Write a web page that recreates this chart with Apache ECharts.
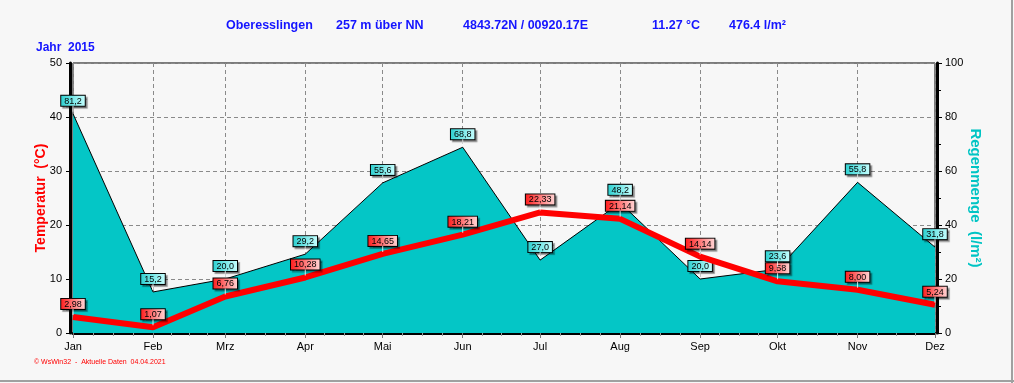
<!DOCTYPE html>
<html>
<head>
<meta charset="utf-8">
<script src="https://cdn.jsdelivr.net/npm/echarts@6/dist/echarts.min.js"></script>
<style>
html,body{margin:0;padding:0;background:#f7f7f7;}
#c{width:1014px;height:383px;}
</style>
</head>
<body>
<div id="c"></div>
<script>
const months = ['Jan','Feb','Mrz','Apr','Mai','Jun','Jul','Aug','Sep','Okt','Nov','Dez'];
const dates = ['2015-01-01','2015-02-01','2015-03-01','2015-04-01','2015-05-01','2015-06-01','2015-07-01','2015-08-01','2015-09-01','2015-10-01','2015-11-01','2015-12-01'];
const temperature = [2.98, 1.07, 6.76, 10.28, 14.65, 18.21, 22.33, 21.14, 14.14, 9.58, 8.00, 5.24];
const rain = [81.2, 15.2, 20.0, 29.2, 55.6, 68.8, 27.0, 48.2, 20.0, 23.6, 55.8, 31.8];
const tempTicks = [0, 10, 20, 30, 40, 50];
const rainTicks = [0, 20, 40, 60, 80, 100];

const FONT = '"Liberation Sans", Arial, sans-serif';
const BLUE = '#1414ff';
const DAY = 86400000;

function grad(c1, c2) {
  return {type:'linear', x:0, y:0, x2:1, y2:0, colorStops:[{offset:0,color:c1},{offset:1,color:c2}]};
}
function lbl(bg1, bg2, dec) {
  return {
    show: true, position: 'top', distance: 7,
    fontFamily: FONT, fontSize: 9, color: '#000',
    padding: [1, 3, 0, 3],
    backgroundColor: grad(bg1, bg2),
    borderColor: '#000', borderWidth: 1,
    shadowColor: 'rgba(0,0,0,0.35)', shadowOffsetX: 2, shadowOffsetY: 2, shadowBlur: 1,
    formatter: p => p.value[1].toFixed(dec).replace('.', ',')
  };
}
function stem(yIdx, values) {
  return {
    type: 'scatter', yAxisIndex: yIdx, silent: true, z: 5,
    data: values.map((v, i) => [dates[i], v]),
    symbol: 'rect', symbolSize: [1, 6], symbolOffset: [0, -5],
    itemStyle: {color: '#ffffff'}
  };
}
const noMark = {color: 'rgba(0,0,0,0)', borderWidth: 0};

const chart = echarts.init(document.getElementById('c'), null, {renderer:'canvas'});
chart.setOption({
  backgroundColor: '#f7f7f7',
  animation: false,
  textStyle: {fontFamily: FONT},
  grid: {left: 73, right: 79, top: 63, bottom: 50, show: true, borderColor: '#000', borderWidth: 1, backgroundColor: 'transparent'},
  graphic: [
    {type:'text', left:226, top:19, style:{text:'Oberesslingen', font:'bold 12.5px '+FONT, fill:BLUE}},
    {type:'text', left:336, top:19, style:{text:'257 m über NN', font:'bold 12.5px '+FONT, fill:BLUE}},
    {type:'text', left:463, top:19, style:{text:'4843.72N / 00920.17E', font:'bold 12.5px '+FONT, fill:BLUE}},
    {type:'text', left:652, top:19, style:{text:'11.27 °C', font:'bold 12.5px '+FONT, fill:BLUE}},
    {type:'text', left:729, top:19, style:{text:'476.4 l/m²', font:'bold 12.5px '+FONT, fill:BLUE}},
    {type:'text', left:36, top:42, style:{text:'Jahr  2015', font:'bold 12px '+FONT, fill:BLUE}},
    {type:'text', left:34, top:359, style:{text:'© WsWin32  -  Aktuelle Daten  04.04.2021', font:'7px '+FONT, fill:'#ff0000'}},
    {type:'line', shape:{x1:1012, y1:0, x2:1012, y2:383}, style:{stroke:'#a0a0a0', lineWidth:2}},
    {type:'line', shape:{x1:0, y1:381, x2:1014, y2:381}, style:{stroke:'#a0a0a0', lineWidth:2}}
  ],
  xAxis: {
    type: 'time', min: dates[0], max: dates[dates.length - 1],
    minInterval: 28 * DAY, maxInterval: 31 * DAY, splitNumber: 11,
    axisLine: {show: true, lineStyle: {color: '#000', width: 3}},
    axisTick: {show: true, length: 5, lineStyle: {color: '#777'}},
    minorTick: {show: true, splitNumber: 4, length: 3, lineStyle: {color: '#999'}},
    axisLabel: {color: '#000', fontSize: 11, margin: 8, fontWeight: 'normal',
      showMinLabel: true, showMaxLabel: true, hideOverlap: false,
      formatter: v => months[new Date(v).getMonth()]},
    splitLine: {show: true, lineStyle: {color: '#8a8a8a', type: [4, 3], width: 1}}
  },
  yAxis: [
    {
      type: 'value', min: tempTicks[0], max: tempTicks[tempTicks.length-1], interval: 10, position: 'left', offset: 3,
      name: 'Temperatur  (°C)', nameLocation: 'middle', nameGap: 22, nameRotate: 90, nameMoveOverlap: false,
      nameTextStyle: {color: '#ff0000', fontSize: 14, fontWeight: 'bold', fontFamily: FONT},
      axisLine: {show: true, lineStyle: {color: '#000', width: 3}},
      axisTick: {show: true, length: 4, lineStyle: {color: '#000'}},
      axisLabel: {color: '#000', fontSize: 11, margin: 8},
      splitLine: {show: true, lineStyle: {color: '#8a8a8a', type: [4, 3], width: 1}}
    },
    {
      type: 'value', min: rainTicks[0], max: rainTicks[rainTicks.length-1], interval: 20, position: 'right', offset: 2,
      name: 'Regenmenge  (l/m²)', nameLocation: 'middle', nameGap: 31, nameRotate: -90, nameMoveOverlap: false,
      nameTextStyle: {color: '#00c4c4', fontSize: 15, fontWeight: 'bold', fontFamily: FONT},
      axisLine: {show: true, lineStyle: {color: '#000', width: 3}},
      axisTick: {show: true, length: 5, lineStyle: {color: '#000'}},
      minorTick: {show: true, splitNumber: 2, length: 4, lineStyle: {color: '#000'}},
      axisLabel: {color: '#000', fontSize: 11, margin: 8},
      splitLine: {show: false}
    }
  ],
  series: [
    {
      name: 'Regen', type: 'line', yAxisIndex: 1,
      data: rain.map((v, i) => [dates[i], v]),
      symbol: 'circle', symbolSize: 2, showSymbol: true,
      itemStyle: noMark,
      lineStyle: {color: '#000', width: 1},
      areaStyle: {color: '#04c6c6', opacity: 1},
      label: lbl('#2ad0d0', '#c8ffff', 1),
      z: 3
    },
    {
      name: 'Temperatur', type: 'line', yAxisIndex: 0,
      data: temperature.map((v, i) => [dates[i], v]),
      symbol: 'circle', symbolSize: 2, showSymbol: true,
      itemStyle: noMark,
      lineStyle: {color: '#ff0000', width: 6},
      label: lbl('#ff1a1a', '#ffd8d8', 2),
      z: 4
    },
    stem(1, rain),
    stem(0, temperature)
  ]
});
</script>
</body>
</html>
